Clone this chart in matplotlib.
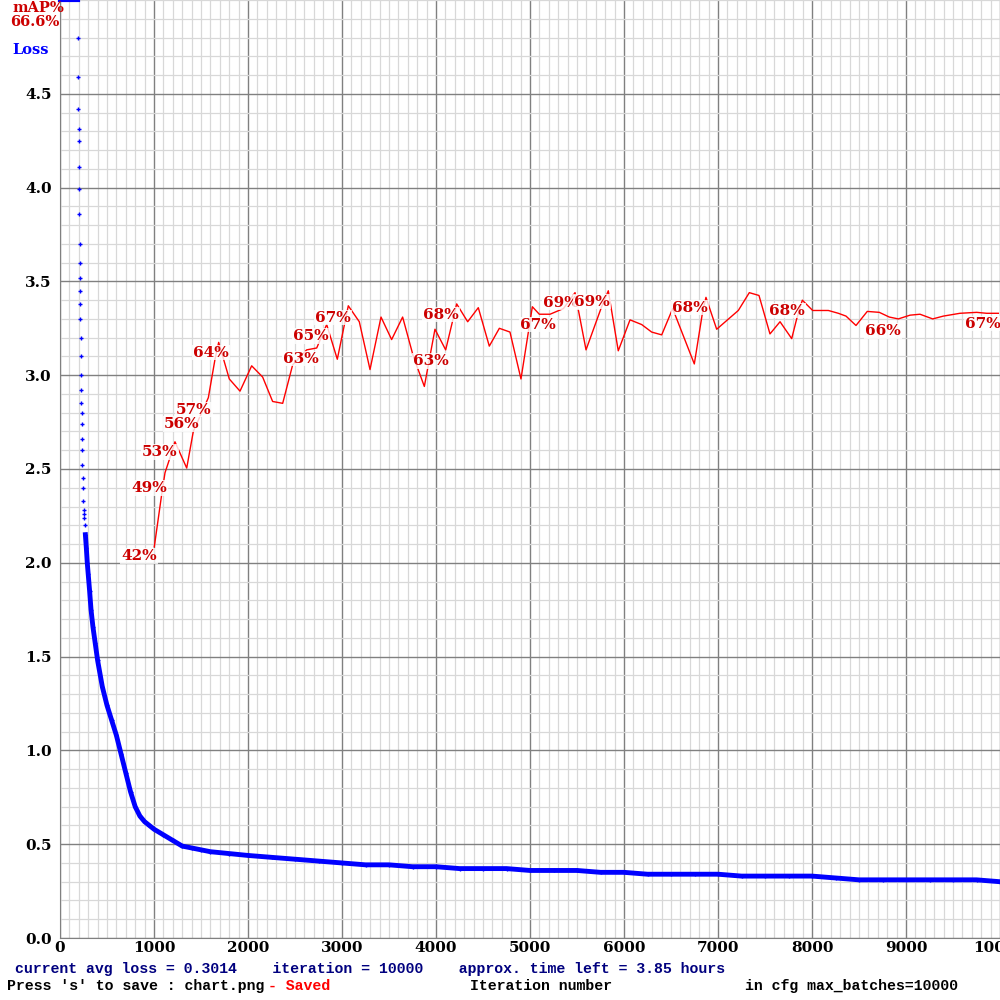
import matplotlib
matplotlib.use("Agg")
import matplotlib.pyplot as plt
from matplotlib.ticker import MultipleLocator

# ---- data ----
flat_iters = [0, 50, 100, 150, 190]
flat_vals = [5.0, 5.0, 5.0, 5.0, 5.0]
steep_iters = [192, 194, 196, 198, 200, 202, 204, 206, 208, 210, 212, 214, 216, 218, 220, 222,
               224, 226, 228, 230, 232, 234, 236, 238, 240, 243, 246, 250, 255, 260, 265, 270]
steep_vals = [4.8, 4.59, 4.42, 4.31, 4.25, 4.11, 3.99, 3.86, 3.7, 3.6, 3.52, 3.45, 3.38, 3.3, 3.2, 3.1,
              3.0, 2.92, 2.85, 2.8, 2.74, 2.66, 2.6, 2.52, 2.45, 2.4, 2.33, 2.28, 2.26, 2.24, 2.2, 2.15]
loss_iters = [270, 280, 290, 300, 315, 330, 350, 375, 400, 450, 500, 550, 600,
              650, 700, 750, 800, 850, 900, 950, 1000, 1100, 1200, 1300, 1400, 1500, 1600,
              1800, 2000, 2250, 2500, 2750, 3000, 3250, 3500, 3750, 4000, 4250, 4500, 4750,
              5000, 5250, 5500, 5750, 6000, 6250, 6500, 6750, 7000, 7250, 7500, 7750, 8000,
              8250, 8500, 8750, 9000, 9250, 9500, 9750, 10000]
loss_vals = [2.15, 2.08, 2.0, 1.94, 1.85, 1.75, 1.66, 1.57, 1.48, 1.34, 1.24, 1.16, 1.08,
             0.98, 0.88, 0.78, 0.70, 0.65, 0.62, 0.60, 0.58, 0.55, 0.52, 0.49, 0.48, 0.47, 0.46,
             0.45, 0.44, 0.43, 0.42, 0.41, 0.40, 0.39, 0.39, 0.38, 0.38, 0.37, 0.37, 0.37,
             0.36, 0.36, 0.36, 0.35, 0.35, 0.34, 0.34, 0.34, 0.34, 0.33, 0.33, 0.33, 0.33,
             0.32, 0.31, 0.31, 0.31, 0.31, 0.31, 0.31, 0.30]

map_iters = [1003, 1082, 1117, 1170, 1223, 1348, 1418, 1578, 1649, 1688, 1801, 1915, 2039, 2156,
             2262, 2369, 2475, 2624, 2731, 2837, 2950, 3067, 3184, 3298, 3415, 3528, 3645, 3759,
             3876, 3989, 4103, 4220, 4337, 4450, 4567, 4674, 4787, 4904, 5025, 5099, 5213, 5355,
             5479, 5596, 5762, 5833, 5939, 6064, 6188, 6294, 6401, 6518, 6748, 6837, 6872, 6986,
             7216, 7333, 7436, 7553, 7660, 7784, 7837, 7897, 8007, 8174, 8280, 8362, 8468, 8588,
             8716, 8822, 8918, 9043, 9149, 9284, 9397, 9574, 9752, 9858, 9982]
map_vals = [41.7, 47.3, 49.6, 51.2, 52.9, 50.1, 54.0, 57.6, 61.7, 63.5, 59.6, 58.3, 61.0, 59.8,
            57.2, 57.0, 61.1, 62.7, 62.9, 65.4, 61.7, 67.4, 65.7, 60.6, 66.2, 63.8, 66.2, 62.0,
            58.8, 64.9, 62.7, 67.6, 65.7, 67.2, 63.1, 65.0, 64.6, 59.6, 67.3, 66.5, 66.5, 67.1,
            68.8, 62.7, 67.3, 69.0, 62.6, 65.9, 65.4, 64.6, 64.3, 67.1, 61.2, 66.8, 68.3, 64.9,
            66.9, 68.8, 68.5, 64.4, 65.7, 63.9, 66.0, 68.0, 66.9, 66.9, 66.6, 66.3, 65.3, 66.8,
            66.7, 66.2, 66.0, 66.4, 66.5, 66.0, 66.3, 66.6, 66.7, 66.6, 66.6]

label_texts = ["42%", "49%", "53%", "56%", "57%", "64%", "63%", "65%", "67%", "63%", "68%", "67%",
               "69%", "69%", "68%", "68%", "66%", "67%"]
label_x = [840, 947, 1064, 1298, 1426, 1606, 2564, 2670, 2904, 3947, 4053, 5085, 5330, 5660, 6702, 7734, 8755, 9819]
label_y = [2.037, 2.40, 2.59, 2.74, 2.816, 3.12, 3.088, 3.21, 3.307, 3.077, 3.323, 3.269, 3.387, 3.392, 3.36, 3.344, 3.237, 3.275]

max_iter = 10000
loss_top = 5.0

fig = plt.figure(figsize=(10, 10), dpi=100)
ax = fig.add_axes([0.06, 0.062, 0.94, 0.938])
ax.set_xlim(0, max_iter)
ax.set_ylim(0, loss_top)
ax.xaxis.set_minor_locator(MultipleLocator(100))
ax.yaxis.set_minor_locator(MultipleLocator(0.1))
ax.grid(which="minor", color="#d8d8d8", lw=0.9)
ax.grid(which="major", color="#808080", lw=1.0)
ax.set_axisbelow(True)
for s in ["top", "right"]:
    ax.spines[s].set_visible(False)
ax.spines["left"].set_color("#808080")
ax.spines["bottom"].set_color("#808080")
ax.tick_params(which="both", length=0)
fnt = dict(family="DejaVu Serif", weight="bold", size=11)
ax.set_xticks(range(0, max_iter + 1, 1000))
ax.set_xticklabels([str(v) for v in range(0, max_iter + 1, 1000)], **fnt)
ax.set_yticks([i * 0.5 for i in range(10)])
ax.set_yticklabels([f"{i*0.5:.1f}" for i in range(10)], **fnt)
ax.tick_params(axis="x", pad=2)
ax.tick_params(axis="y", pad=6)

# loss
ax.plot(flat_iters, flat_vals, color="#0000ff", lw=3, clip_on=False, zorder=3)
ax.plot(steep_iters, steep_vals, ls="none", color="#0000ff", marker="+", ms=3, mew=1, zorder=3)
ax.plot(loss_iters, loss_vals, color="#0000ff", lw=3.5, marker="+", ms=3, mew=1, zorder=3)

# mAP (scaled so 100% == loss_top)
map_scaled = [v / 100 * loss_top for v in map_vals]
ax.plot(map_iters, map_scaled, color="#ff0000", lw=1.0, zorder=4)
for txt, lx, ly in zip(label_texts, label_x, label_y):
    ax.text(lx, ly, txt, ha="center", va="center", color="#cc0000", family="DejaVu Serif",
            weight="bold", fontsize=11, zorder=5,
            bbox=dict(boxstyle="square,pad=0.05", fc="white", ec="none", alpha=0.8))

t = dict(family="DejaVu Serif", weight="bold", fontsize=10.5)
fig.text(0.012, 0.999, "mAP%", color="#cc0000", va="top", **t)
fig.text(0.010, 0.985, f"{map_vals[-1]:.1f}%", color="#cc0000", va="top", **t)
fig.text(0.012, 0.957, "Loss", color="#0000ff", va="top", **t)

m = dict(family="Liberation Mono", weight="bold", fontsize=10.7)
fig.text(0.015, 0.031, "current avg loss = 0.3014    iteration = 10000    approx. time left = 3.85 hours",
         color="#00007f", va="center", **m)
fig.text(0.007, 0.014, "Press 's' to save : chart.png", color="black", va="center", **m)
fig.text(0.268, 0.014, "- Saved", color="#ff0000", va="center", **m)
fig.text(0.470, 0.014, "Iteration number", color="black", va="center", **m)
fig.text(0.745, 0.014, "in cfg max_batches=10000", color="black", va="center", **m)

fig.savefig("out.png", dpi=100, facecolor="white")
